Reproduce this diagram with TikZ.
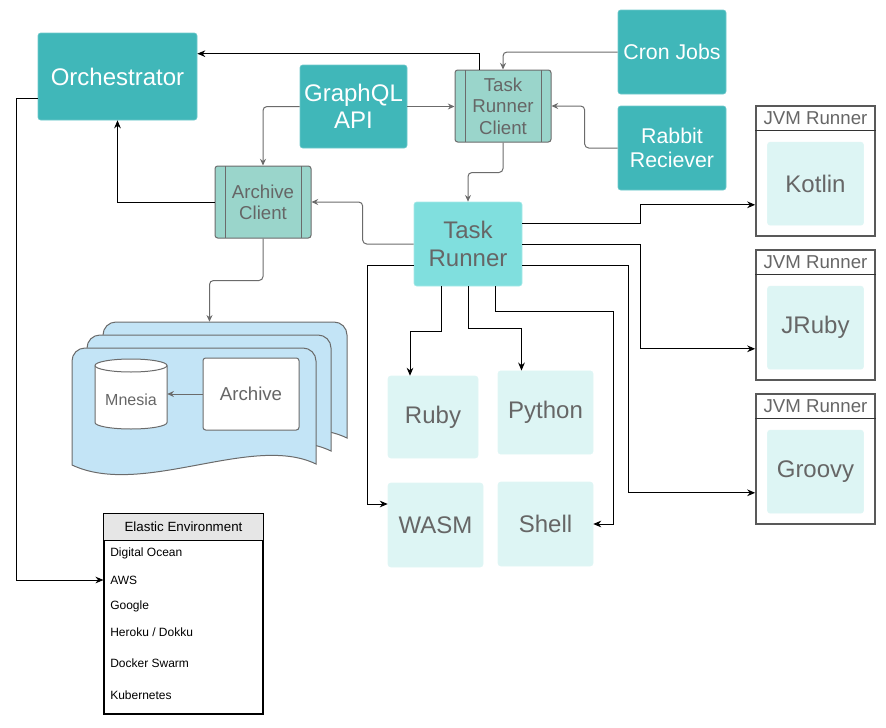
\documentclass[tikz,border=0pt]{standalone}
\usepackage{fontspec}
\setmainfont{Liberation Sans}
\usetikzlibrary{arrows.meta, positioning, calc}
\definecolor{tealbox}{HTML}{40B7B9}
\definecolor{clientfill}{HTML}{9AD5CB}
\definecolor{runnerfill}{HTML}{80DFDE}
\definecolor{langfill}{HTML}{DDF5F4}
\definecolor{docfill}{HTML}{C3E4F6}
\definecolor{linegray}{HTML}{6B6B6B}
\definecolor{textgray}{HTML}{666666}
\definecolor{headfill}{HTML}{E6E6E6}

\begin{document}
\begin{tikzpicture}[
        x=0.75pt, y=-0.75pt, on grid, node distance=72pt,
        >={Stealth[length=6pt, width=5pt]},
        every node/.style={inner sep=0pt, align=center},
        tealnode/.style={fill=tealbox, draw=tealbox!75!white, line width=0.5pt, rounded corners=2pt,
            text=white, font=\fontsize{16}{18.2}\selectfont, minimum width=81pt, minimum height=63pt},
        client/.style={fill=clientfill, draw=linegray, line width=0.75pt, rounded corners=2pt,
            text=textgray, font=\fontsize{14}{16}\selectfont, minimum width=72pt, minimum height=54pt,
            path picture={\draw[linegray, line width=0.75pt]
                ([xshift=7.5pt]path picture bounding box.north west) -- ([xshift=7.5pt]path picture bounding box.south west)
                ([xshift=-7.5pt]path picture bounding box.north east) -- ([xshift=-7.5pt]path picture bounding box.south east);}},
        runnerbox/.style={fill=runnerfill, draw=runnerfill!70!white, line width=0.5pt, rounded corners=2pt,
            text=textgray, font=\fontsize{18}{20.7}\selectfont, minimum width=81pt, minimum height=63pt},
        lang/.style={fill=langfill, draw=langfill!90!white, rounded corners=2pt, text=textgray,
            font=\fontsize{18}{20}\selectfont, minimum width=71.25pt, minimum height=62.5pt},
        jvmbox/.style={draw=black!65, line width=1.2pt, fill=white, minimum width=89.25pt, minimum height=97.5pt},
        jvmtitle/.style={text=textgray, font=\fontsize{14}{16}\selectfont},
        doc/.style={fill=docfill, draw=linegray, line width=0.75pt},
        envitem/.style={anchor=west, font=\fontsize{9}{10}\selectfont},
        gline/.style={->, draw=linegray, line width=0.75pt, rounded corners=3pt,
            >={Stealth[length=5pt, width=4.5pt]}},
        bline/.style={->, draw=black, line width=0.75pt},
        ]
        \useasboundingbox (0,0) rectangle (886,728);

        % upper row
        \node[tealnode, font=\fontsize{18}{20.5}\selectfont, minimum width=119.25pt, minimum height=65.25pt]
            (orch) at (117.5,76.5) {Orchestrator};
        \node[tealnode, font=\fontsize{18}{20}\selectfont, minimum width=80.25pt, minimum height=62.25pt]
            (graphql) at (353.5,106.5) {GraphQL\\API};
        \node[client] (trc) at (503,106) {Task\\Runner\\Client};
        \node[tealnode] (cron) at (672,52) {Cron Jobs};
        \node[tealnode] (rabbit) [below=of cron] {Rabbit\\Reciever};
        \node[client] (aclient) at (263,202) {Archive\\Client};
        \node[runnerbox] (runner) at (468,244) {Task\\Runner};

        % local runners
        \node[lang, minimum width=67.5pt, minimum height=61.5pt] (ruby) at (433,417) {Ruby};
        \node[lang] (python) at (545.5,412.5) {Python};
        \node[lang, minimum height=63pt] (wasm) at (435.5,525) {WASM};
        \node[lang, minimum height=63pt] (shell) at (545.5,524) {Shell};

        % jvm runners
        \foreach \i/\lang/\yc in {1/Kotlin/171, 2/JRuby/315, 3/Groovy/459} {
            \node[jvmbox] (jvm\i) at (815.5,\yc) {};
            \draw[black!80, line width=1pt] ($(jvm\i.north west)+(0,25)$) -- ($(jvm\i.north east)+(0,25)$);
            \node[jvmtitle] at ($(jvm\i.north)+(0,12.5)$) {JVM Runner};
            \node[lang, minimum width=72pt, minimum height=62.25pt] (inner\i) at ($(jvm\i.north)+(0,78.5)$) {\lang};
        }

        % archive store
        \foreach \ox/\oy in {103/322, 87/335, 72/348} {
            \begin{scope}[shift={(\ox,\oy)}]
                \filldraw[doc] (0,117) -- (0,13) arc[start angle=180, end angle=90, radius=9.75pt]
                    -- (231,0) arc[start angle=90, end angle=0, radius=9.75pt]
                    -- (244,116) .. controls (180,85) and (70,150) .. (0,117) -- cycle;
            \end{scope}
        }
        \node[minimum width=206.25pt, minimum height=115.5pt] (store) at (209.5,399) {};
        \filldraw[fill=white, draw=linegray, line width=0.75pt]
            (95,365.5) -- (95,422.5) arc[start angle=180, end angle=360, x radius=27pt, y radius=4.875pt]
            -- (167,365.5) arc[start angle=0, end angle=180, x radius=27pt, y radius=4.875pt] -- cycle;
        \draw[linegray, line width=0.75pt] (95,365.5) arc[start angle=180, end angle=360, x radius=27pt, y radius=4.875pt];
        \node[minimum width=54pt, minimum height=52.5pt] (mnesia) at (131,394) {};
        \node[text=textgray, font=\fontsize{12}{14}\selectfont] at (131,400) {Mnesia};
        \node[fill=white, draw=linegray, line width=0.75pt, rounded corners=2pt, text=textgray,
            font=\fontsize{14}{16}\selectfont, minimum width=72pt, minimum height=54pt]
            (archive) at (251,394) {Archive};

        % elastic environment
        \node[draw=black, line width=0.8pt, minimum width=119.25pt, minimum height=150pt] (env) at (183.5,614) {};
        \filldraw[fill=headfill, draw=black, line width=0.8pt] (env.north west) rectangle ($(env.north east)+(0,27)$);
        \node[font=\fontsize{10}{12}\selectfont] at ($(env.north)+(0,13.5)$) {Elastic Environment};
        \foreach \yy/\txt [count=\k] in {553/{Digital Ocean}, 580/AWS, 606/Google, 632/{Heroku / Dokku},
                663/{Docker Swarm}, 695/Kubernetes}
            \node[envitem] (item\k) at (110,\yy) {\txt};

        % connectors
        \draw[bline] ($(trc.north)+(-24,0)$) |- ($(orch.north east)+(0,21)$);
        \draw[bline] ($(orch.south west)+(0,-22)$) -- ++(-21,0) |- (env.west |- item2.west);
        \draw[gline] (graphql.west) -| (aclient.north);
        \draw[gline] (graphql.east) -- (graphql.east -| trc.west);
        \draw[gline] (cron.west) -| (trc.north);
        \draw[gline] (rabbit.west) -- ++(-33,0) |- (trc.east);
        \draw[gline] (trc.south) -- ++(0,30) -| (runner.north);
        \draw[gline] (runner.west) -- ++(-51,0) |- (aclient.east);
        \draw[bline] (aclient.west) -| (orch.south);
        \draw[gline] (aclient.south) -- ++(0,42) -| (store.north);
        \draw[gline] (archive.west) -- (mnesia.east);
        \draw[bline] ($(runner.south)+(-27,0)$) -- ++(0,45) -| ($(ruby.north)+(-23,0)$);
        \draw[bline] (runner.south) -- ++(0,42) -| ($(python.north)+(-24,0)$);
        \draw[bline] ($(runner.south)+(27,0)$) -- ++(0,25) -| ($(shell.east)+(20,0)$) -- (shell.east);
        \draw[bline] ($(runner.west)+(0,21)$) -- ++(-46,0) |- ($(wasm.west)+(0,-21)$);
        \draw[bline] ($(runner.east)+(0,-21)$) -- ++(118,0) |- ($(jvm1.south west)+(0,-32)$);
        \draw[bline] (runner.east) -- ++(118,0) |- ($(jvm2.south west)+(0,-32)$);
        \draw[bline] ($(runner.east)+(0,21)$) -- ++(106,0) |- ($(jvm3.south west)+(0,-32)$);
      \end{tikzpicture}
\end{document}
